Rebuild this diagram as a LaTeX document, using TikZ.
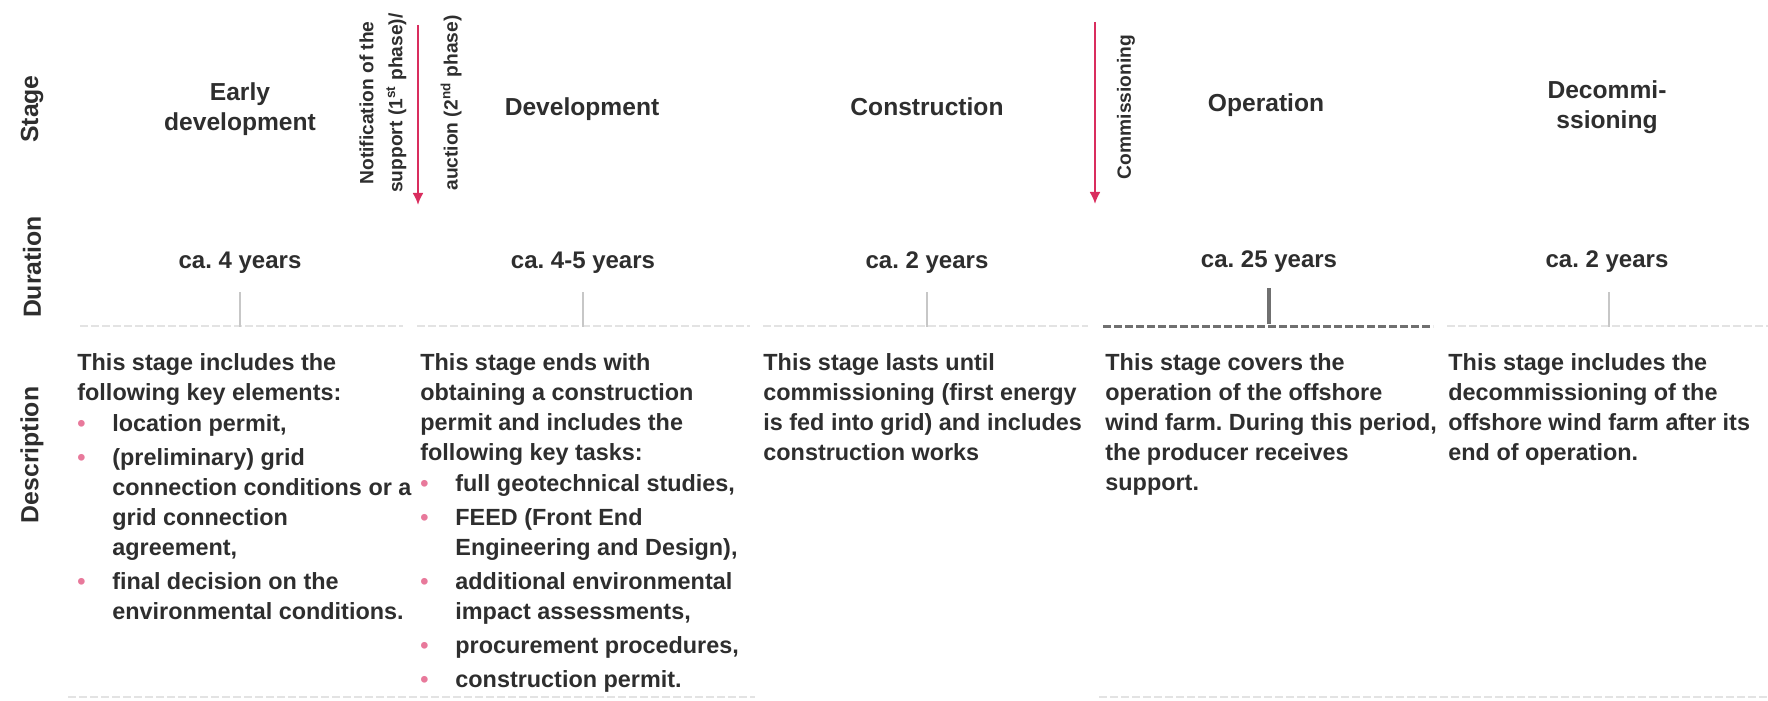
\documentclass[tikz,border=0pt]{standalone}
\usepackage{fontspec}
\setmainfont{Liberation Sans}
\usetikzlibrary{arrows.meta}
\definecolor{ink}{HTML}{2E2E2E}
\definecolor{crimson}{HTML}{D92D5E}
\definecolor{dotpink}{HTML}{E8799B}
\definecolor{rulegray}{HTML}{707070}
\definecolor{ghost}{HTML}{E3E3E3}
% bullet and hanging indent for the task lists
\newcommand{\bul}{\makebox[17.5pt][l]{\textcolor{dotpink}{\textbullet}}}
\newcommand{\ind}{\hspace*{17.5pt}}
\frenchspacing
\begin{document}
\begin{tikzpicture}[x=0.5pt,y=-0.5pt,
  every node/.style={text=ink,inner sep=0pt},
  rowlabel/.style={rotate=90,font=\bfseries\fontsize{12.4}{15}\selectfont},
  stagetitle/.style={align=center,font=\bfseries\fontsize{12.3}{15}\selectfont},
  duration/.style={anchor=base,font=\bfseries\fontsize{12}{15}\selectfont},
  desc/.style={anchor=north west,align=left,font=\bfseries\fontsize{11.7}{15}\selectfont},
  eventtext/.style={rotate=90,align=center,font=\bfseries\fontsize{9.6}{14.5}\selectfont},
  milestone/.style={crimson,line width=1.1pt,-{Latex[length=6pt,width=5.5pt]}},
  faintrule/.style={ghost,line width=1.4pt,dash pattern=on 4pt off 1.5pt},
  faintmark/.style={black!22,line width=1.3pt}]
\useasboundingbox (0,0) rectangle (1768,701);

% row headings
\node[rowlabel] (lstage) at (32,109) {Stage};
\node[rowlabel] (ldur) at (32,267) {Duration};
\node[rowlabel] (ldesc) at (32,455) {Description};

% stages
\node[stagetitle] (tearly) at (240,109) {Early\\development};
\node[stagetitle] (tdev) at (582,109) {Development};
\node[stagetitle] (tcons) at (927,107) {Construction};
\node[stagetitle] (toper) at (1266,105) {Operation};
\node[stagetitle] (tdecom) at (1607,107) {Decommi-\\ssioning};

% milestones
\coordinate (notiftop) at (418,25);
\coordinate (notifend) at (418,205);
\draw[milestone] (notiftop) -- (notifend);
\node[eventtext] (notif) at (383,103) {Notification of the\\support (1\textsuperscript{st} phase)/};
\node[eventtext] (auction) at (451,103) {auction (2\textsuperscript{nd} phase)};
\coordinate (commtop) at (1095,22);
\coordinate (commend) at (1095,204);
\draw[milestone] (commtop) -- (commend);
\node[eventtext] (comm) at (1126,107) {Commissioning};

% durations
\node[duration] (dur1) at (240,268) {ca. 4 years};
\node[duration] (dur2) at (583,268) {ca. 4-5 years};
\node[duration] (dur3) at (927,268) {ca. 2 years};
\node[duration] (dur4) at (1269,267) {ca. 25 years};
\node[duration] (dur5) at (1607,267) {ca. 2 years};

% time axis
\draw[faintrule] (80,326) -- (403,326);
\draw[faintrule] (417,326) -- (750,326);
\draw[faintrule] (763,326) -- (1088,326);
\draw[faintrule] (1447,326) -- (1768,326);
\draw[rulegray,line width=1.5pt,dash pattern=on 4pt off 1.5pt] (1103,326) -- (1433,326);
\draw[faintmark] (240,292) -- (240,327);
\draw[faintmark] (583,292) -- (583,327);
\draw[faintmark] (927,292) -- (927,327);
\draw[faintmark] (1609,292) -- (1609,327);
\draw[rulegray,line width=2pt] (1269,288) -- (1269,324);

% descriptions
\node[desc] (desc1) at (77,353) {This stage includes the\\following key elements:\\[0.5pt]
\bul location permit,\\[2pt]
\bul (preliminary) grid\\
\ind connection conditions or a\\
\ind grid connection\\
\ind agreement,\\[2pt]
\bul final decision on the\\
\ind environmental conditions.};
\node[desc] (desc2) at (420,353) {This stage ends with\\obtaining a construction\\permit and includes the\\following key tasks:\\[0.5pt]
\bul full geotechnical studies,\\[2pt]
\bul FEED (Front End\\
\ind Engineering and Design),\\[2pt]
\bul additional environmental\\
\ind impact assessments,\\[2pt]
\bul procurement procedures,\\[2pt]
\bul construction permit.};
\node[desc] (desc3) at (763,353) {This stage lasts until\\commissioning (first energy\\is fed into grid) and includes\\construction works};
\node[desc] (desc4) at (1105,353) {This stage covers the\\operation of the offshore\\wind farm. During this period,\\the producer receives\\support.};
\node[desc] (desc5) at (1448,353) {This stage includes the\\decommissioning of the\\offshore wind farm after its\\end of operation.};

% closing rule
\draw[faintrule] (68,697) -- (755,697);
\draw[faintrule] (1099,697) -- (1768,697);
\end{tikzpicture}
\end{document}
